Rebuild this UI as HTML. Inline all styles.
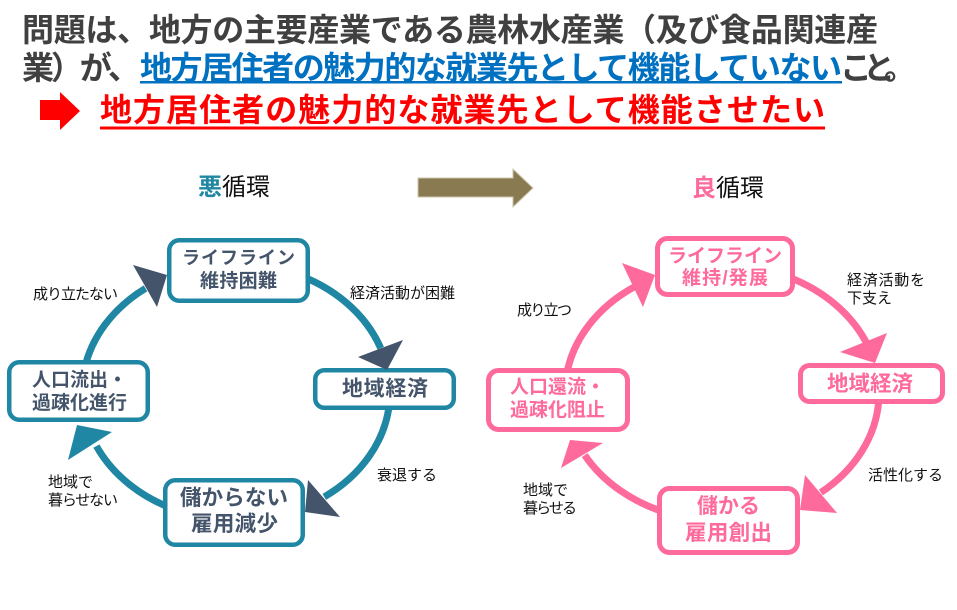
<!DOCTYPE html>
<html>
<head>
<meta charset="utf-8">
<style>
  html,body{margin:0;padding:0;background:#fff;}
  svg{display:block;}
  text{font-family:"Liberation Sans","Noto Sans CJK JP",sans-serif;}
  .h{font-weight:700;font-size:32px;}
  .bx{font-weight:700;}
  .lb{font-size:15px;fill:#111;}
</style>
</head>
<body>
<svg width="957" height="610" viewBox="0 0 957 610" xmlns="http://www.w3.org/2000/svg">
  <rect x="0" y="0" width="957" height="610" fill="#fff"/>

  <!-- Header -->
  <text class="h" x="22" y="41" fill="#404040" textLength="856" lengthAdjust="spacing">問題は、地方の主要産業である農林水産業（及び食品関連産</text>
  <text class="h" x="22" y="79" fill="#404040" textLength="118" lengthAdjust="spacing">業）が、</text>
  <text class="h" x="140" y="79" fill="#0070c0" textLength="702" lengthAdjust="spacing">地方居住者の魅力的な就業先として機能していない</text>
  <text class="h" x="840" y="79" fill="#404040" font-size="29">こ</text>
  <text class="h" x="863" y="79" fill="#404040" font-size="29">と</text>
  <text class="h" x="884" y="79" fill="#404040" font-size="32">。</text>
  <rect x="140" y="81" width="702" height="2.5" fill="#0070c0"/>

  <!-- red arrow + line -->
  <rect x="40" y="100" width="21" height="20" fill="#ff0000"/>
  <polygon points="60,92 80,111 60,130" fill="#ff0000"/>
  <text class="h" x="100" y="121" fill="#ff0000" textLength="725" lengthAdjust="spacing">地方居住者の魅力的な就業先として機能させたい</text>
  <rect x="100" y="126.5" width="725" height="3" fill="#ff0000"/>

  <!-- Titles -->
  <text x="198" y="195" font-size="24" fill="#111"><tspan font-weight="700" fill="#1f87a3">悪</tspan>循環</text>
  <text x="692" y="196" font-size="24" fill="#111"><tspan font-weight="700" fill="#fd6a9b">良</tspan>循環</text>

  <!-- big olive arrow -->
  <polygon points="418,178 513,178 513,169 533,188 513,207 513,197 418,197" fill="#8a7a52" stroke="#cfc6ae" stroke-width="1"/>

  <!-- LEFT CYCLE arcs -->
  <g fill="none" stroke="#1f87a3" stroke-width="7">
    <path d="M 84.3 369.8 A 154 128 0 0 1 145.5 288.4"/>
    <path d="M 293.7 273.3 A 154 128 0 0 1 380.7 348.2"/>
    <path d="M 389.4 403.2 A 154 128 0 0 1 324.3 496.9"/>
    <path d="M 178.3 510.7 A 154 128 0 0 1 96.4 446.1"/>
  </g>
  <!-- left boxes -->
  <g fill="#fff" stroke="#1f87a3" stroke-width="4.5">
    <rect x="169.25" y="240.25" width="138.5" height="60.5" rx="10"/>
    <rect x="315.25" y="370.25" width="138.5" height="37.5" rx="9"/>
    <rect x="165.25" y="480.25" width="137.5" height="64.5" rx="10"/>
    <rect x="9.25" y="362.25" width="138.5" height="57.5" rx="10"/>
  </g>
  <!-- left arrowheads -->
  <polygon points="133,265 157,307 167,275" fill="#44546a"/>
  <polygon points="358,357 403,340 387,370" fill="#44546a"/>
  <polygon points="308,480 340,517 305,512" fill="#44546a"/>
  <polygon points="112,432 68,460 77,425" fill="#1f87a3"/>

  <!-- left box texts -->
  <g class="bx" fill="#44546a" text-anchor="middle">
    <text x="238.5" y="264" font-size="18" textLength="113" lengthAdjust="spacing">ライフライン</text>
    <text x="238.5" y="287" font-size="19" textLength="77" lengthAdjust="spacing">維持困難</text>
    <text x="385" y="395.5" font-size="21" textLength="86" lengthAdjust="spacing">地域経済</text>
    <text x="234" y="505" font-size="21.5" textLength="108" lengthAdjust="spacing">儲からない</text>
    <text x="234.5" y="531" font-size="21.5" textLength="87" lengthAdjust="spacing">雇用減少</text>
  </g>
  <g class="bx" fill="#44546a">
    <text x="32" y="386" font-size="19" textLength="95" lengthAdjust="spacing">人口流出・</text>
    <text x="32" y="409" font-size="19" textLength="95" lengthAdjust="spacing">過疎化進行</text>
  </g>

  <!-- left labels -->
  <text class="lb" x="33" y="299" textLength="85" lengthAdjust="spacing">成り立たない</text>
  <text class="lb" x="350" y="298">経済活動が困難</text>
  <text class="lb" x="377" y="480" textLength="60" lengthAdjust="spacing">衰退する</text>
  <text class="lb" x="48" y="487">地域で</text>
  <text class="lb" x="48" y="505" textLength="70" lengthAdjust="spacing">暮らせない</text>

  <!-- RIGHT CYCLE arcs -->
  <g fill="none" stroke="#fd6a9b" stroke-width="7">
    <path d="M 566.5 375.2 A 157 128 0 0 1 634.2 286.9"/>
    <path d="M 788.3 277 A 157 128 0 0 1 867.6 345.1"/>
    <path d="M 878.8 399.7 A 157 128 0 0 1 820.8 492.5"/>
    <path d="M 668.3 513.3 A 157 128 0 0 1 584.7 455.1"/>
  </g>
  <!-- right boxes -->
  <g fill="#fff" stroke="#fd6a9b" stroke-width="5">
    <rect x="657.5" y="238.5" width="135" height="56" rx="10"/>
    <rect x="800.5" y="365.5" width="142" height="36" rx="9"/>
    <rect x="659.5" y="488.5" width="138" height="64" rx="10"/>
    <rect x="488.5" y="370.5" width="139" height="59" rx="10"/>
  </g>
  <!-- right arrowheads -->
  <g fill="#fd6a9b">
    <polygon points="622,263 643,307 655,275"/>
    <polygon points="840,352 887,333 875,363"/>
    <polygon points="805,475 837,513 800,510"/>
    <polygon points="603,443 561,468 570,440"/>
  </g>

  <!-- right box texts -->
  <g class="bx" fill="#fd6a9b" text-anchor="middle">
    <text x="725" y="262" font-size="19" textLength="114" lengthAdjust="spacing">ライフライン</text>
    <text x="725" y="284" font-size="19" textLength="86" lengthAdjust="spacing">維持/発展</text>
    <text x="870" y="391" font-size="21.5" textLength="86" lengthAdjust="spacing">地域経済</text>
    <text x="728.5" y="513" font-size="21" textLength="63" lengthAdjust="spacing">儲かる</text>
    <text x="728.5" y="540" font-size="21.5" textLength="87" lengthAdjust="spacing">雇用創出</text>
  </g>
  <g class="bx" fill="#fd6a9b">
    <text x="510" y="393" font-size="19" textLength="95" lengthAdjust="spacing">人口還流・</text>
    <text x="510" y="416" font-size="19" textLength="95" lengthAdjust="spacing">過疎化阻止</text>
  </g>

  <!-- right labels -->
  <text class="lb" x="517" y="315" textLength="55" lengthAdjust="spacing">成り立つ</text>
  <text class="lb" x="847" y="285" textLength="78" lengthAdjust="spacing">経済活動を</text>
  <text class="lb" x="847" y="303">下支え</text>
  <text class="lb" x="868" y="480" textLength="75" lengthAdjust="spacing">活性化する</text>
  <text class="lb" x="523" y="495">地域で</text>
  <text class="lb" x="523" y="513" textLength="54" lengthAdjust="spacing">暮らせる</text>
</svg>
</body>
</html>
